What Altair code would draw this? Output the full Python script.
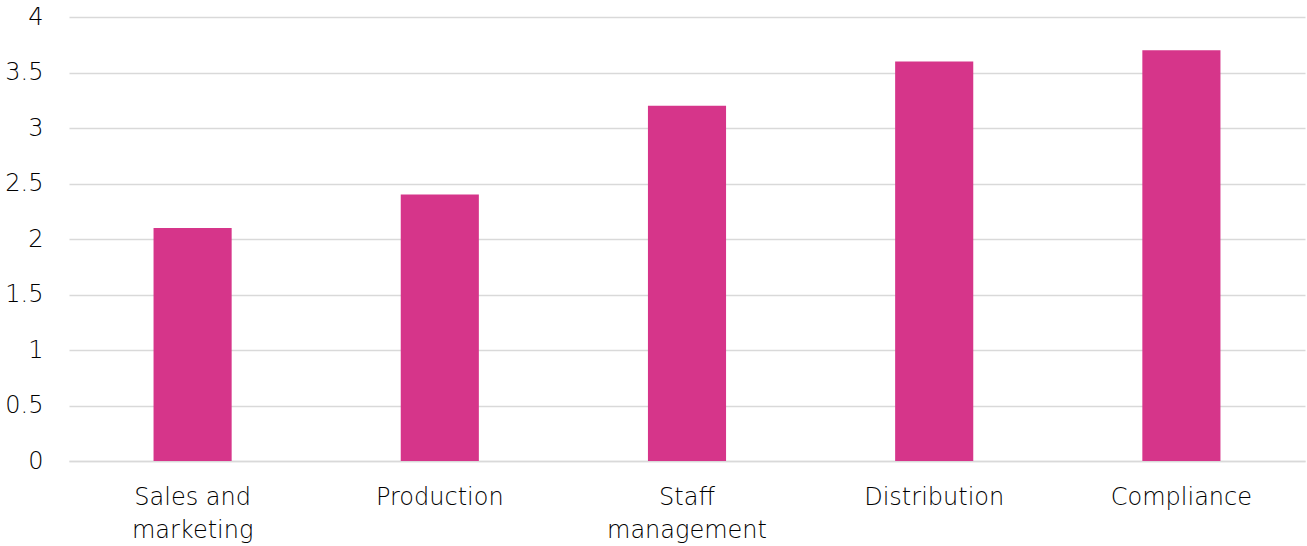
import altair as alt
import pandas as pd

categories = ["Sales and\nmarketing", "Production", "Staff\nmanagement", "Distribution", "Compliance"]
scores = [2.1, 2.4, 3.2, 3.6, 3.7]
y_ticks = [0, 0.5, 1, 1.5, 2, 2.5, 3, 3.5, 4]

df = pd.DataFrame({"area": categories, "score": scores})

FONT = "DejaVu Sans"
WEIGHT = 200
SIZE = 24
INK = "#000000"

chart = (
    alt.Chart(df)
    .mark_bar(color="#D6358A")
    .encode(
        x=alt.X(
            "area:N",
            sort=categories,
            scale=alt.Scale(paddingInner=0.684, paddingOuter=0.342),
            axis=alt.Axis(
                title=None,
                labelAngle=0,
                labelFont=FONT,
                labelFontSize=SIZE,
                labelFontWeight=WEIGHT,
                labelColor=INK,
                labelPadding=24,
                labelLineHeight=33,
                labelExpr="split(datum.label, '\\n')",
                ticks=False,
                domainColor="#d9d9d9",
                domainWidth=1.5,
                grid=False,
            ),
        ),
        y=alt.Y(
            "score:Q",
            scale=alt.Scale(domain=[0, 4], nice=False),
            axis=alt.Axis(
                title=None,
                values=y_ticks,
                format="~g",
                labelFont=FONT,
                labelFontSize=SIZE,
                labelFontWeight=WEIGHT,
                labelColor=INK,
                labelPadding=26,
                ticks=False,
                domain=False,
                gridColor="#d9d9d9",
                gridWidth=1.5,
            ),
        ),
    )
    .properties(
        width=1236,
        height=444,
        autosize=alt.AutoSizeParams(type="none"),
        padding={"left": 69, "top": 17, "right": 2, "bottom": 85},
    )
    .configure(background="white", view=alt.ViewConfig(strokeWidth=0, stroke="transparent"))
)

chart.save("out.html", embed_options={"renderer": "svg", "actions": False})
